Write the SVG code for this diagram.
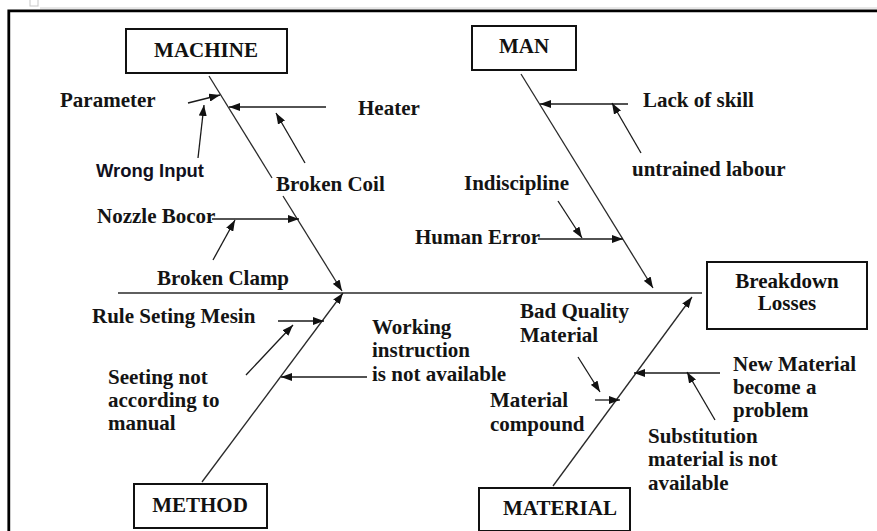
<svg xmlns="http://www.w3.org/2000/svg" width="877" height="531" viewBox="0 0 877 531">
  <style>
    .lbl { font-family: "Liberation Serif", "Times New Roman", serif; font-weight: bold; font-size: 21px; fill: #141414; }
    .ttl { font-family: "Liberation Serif", "Times New Roman", serif; font-weight: bold; font-size: 21px; fill: #111; }
    .sans { font-family: "Liberation Sans", Arial, sans-serif; font-weight: bold; font-size: 18.5px; fill: #101020; }
    .box { fill: #fff; stroke: #111; stroke-width: 2; }
    .bone { stroke: #2a2a2a; stroke-width: 1.3; fill: none; }
    .arr { stroke: #1a1a1a; stroke-width: 1.3; fill: none; marker-end: url(#ah); }
  </style>
  <defs>
    <marker id="ah" markerUnits="userSpaceOnUse" markerWidth="11" markerHeight="8" refX="11" refY="4" orient="auto">
      <path d="M0,0 L11,4 L0,8 z" fill="#111"/>
    </marker>
  </defs>
  <rect width="877" height="531" fill="#fff"/>
  <g id="frame">
    <rect x="30" y="-1" width="8" height="7" fill="none" stroke="#c8c8c8" stroke-width="1"/>
    <line x1="40" y1="8" x2="877" y2="8" stroke="#d0d0d0" stroke-width="1"/>
    <path d="M8.8,531 L8.8,10.8 L877,10.8" fill="none" stroke="#000" stroke-width="2.8"/>
  </g>

  <g id="connectors">
    <line class="bone" x1="118" y1="293" x2="702" y2="293"/>
    <line class="bone" x1="209" y1="76" x2="272" y2="178"/>
    <line class="bone" x1="283" y1="196" x2="342" y2="291" style="marker-end:url(#ah)"/>
    <line class="bone" x1="521" y1="74" x2="653" y2="288" style="marker-end:url(#ah)"/>
    <line class="bone" x1="202" y1="482" x2="343" y2="293" style="marker-end:url(#ah)"/>
    <line class="bone" x1="553" y1="486" x2="692" y2="297" style="marker-end:url(#ah)"/>
    <line class="arr" x1="188" y1="103" x2="220" y2="95"/>
    <line class="arr" x1="198" y1="158" x2="204" y2="105"/>
    <line class="arr" x1="326" y1="107" x2="229" y2="107"/>
    <line class="arr" x1="305" y1="163" x2="276" y2="113"/>
    <line class="arr" x1="212" y1="219" x2="299" y2="219"/>
    <line class="arr" x1="213" y1="260" x2="235" y2="220"/>
    <line class="arr" x1="628" y1="104" x2="540" y2="104"/>
    <line class="arr" x1="641" y1="153" x2="612" y2="103"/>
    <line class="arr" x1="558" y1="201" x2="582" y2="238"/>
    <line class="arr" x1="538" y1="239" x2="623" y2="239"/>
    <line class="arr" x1="278" y1="321" x2="324" y2="321"/>
    <line class="arr" x1="246" y1="375" x2="293" y2="325"/>
    <line class="arr" x1="367" y1="377" x2="281" y2="377"/>
    <line class="arr" x1="578" y1="357" x2="600" y2="392"/>
    <line class="arr" x1="595" y1="400" x2="620" y2="400"/>
    <line class="arr" x1="720" y1="373" x2="634" y2="373"/>
    <line class="arr" x1="715" y1="420" x2="687" y2="372"/>
  </g>

  <g id="machine">
    <rect class="box" x="126" y="29" width="161" height="44"/>
    <text class="ttl" x="206" y="57" text-anchor="middle">MACHINE</text>
  </g>
  <g id="man">
    <rect class="box" x="472" y="26" width="104" height="44"/>
    <text class="ttl" x="524" y="53" text-anchor="middle">MAN</text>
  </g>
  <g id="breakdown-losses">
    <rect class="box" x="707" y="262" width="160" height="67"/>
    <text class="ttl" x="787" y="288" text-anchor="middle">Breakdown</text>
    <text class="ttl" x="787" y="310" text-anchor="middle">Losses</text>
  </g>
  <g id="method">
    <rect class="box" x="134" y="484" width="133" height="44"/>
    <text class="ttl" x="200" y="512" text-anchor="middle">METHOD</text>
  </g>
  <g id="material">
    <rect class="box" x="479" y="488" width="151" height="43"/>
    <text class="ttl" x="560" y="515" text-anchor="middle">MATERIAL</text>
  </g>

  <g id="machine-causes">
    <text class="lbl" x="60" y="107">Parameter</text>
    <text class="sans" x="96" y="177" textLength="108" lengthAdjust="spacingAndGlyphs">Wrong Input</text>
    <text class="lbl" x="358" y="115">Heater</text>
    <text class="lbl" x="276" y="191">Broken Coil</text>
    <text class="lbl" x="97" y="223">Nozzle Bocor</text>
    <text class="lbl" x="157" y="285">Broken Clamp</text>
  </g>
  <g id="man-causes">
    <text class="lbl" x="643" y="107">Lack of skill</text>
    <text class="lbl" x="632" y="176">untrained labour</text>
    <text class="lbl" x="464" y="190">Indiscipline</text>
    <text class="lbl" x="415" y="244">Human Error</text>
  </g>
  <g id="method-causes">
    <text class="lbl" x="92" y="323">Rule Seting Mesin</text>
    <text class="lbl" x="108" y="384">Seeting not</text>
    <text class="lbl" x="108" y="407">according to</text>
    <text class="lbl" x="108" y="430">manual</text>
    <text class="lbl" x="372" y="334">Working</text>
    <text class="lbl" x="372" y="357">instruction</text>
    <text class="lbl" x="372" y="381">is not available</text>
  </g>
  <g id="material-causes">
    <text class="lbl" x="520" y="318">Bad Quality</text>
    <text class="lbl" x="520" y="342">Material</text>
    <text class="lbl" x="490" y="407">Material</text>
    <text class="lbl" x="490" y="431">compound</text>
    <text class="lbl" x="733" y="371">New Material</text>
    <text class="lbl" x="733" y="394">become a</text>
    <text class="lbl" x="733" y="417">problem</text>
    <text class="lbl" x="648" y="443">Substitution</text>
    <text class="lbl" x="648" y="466">material is not</text>
    <text class="lbl" x="648" y="490">available</text>
  </g>
</svg>
